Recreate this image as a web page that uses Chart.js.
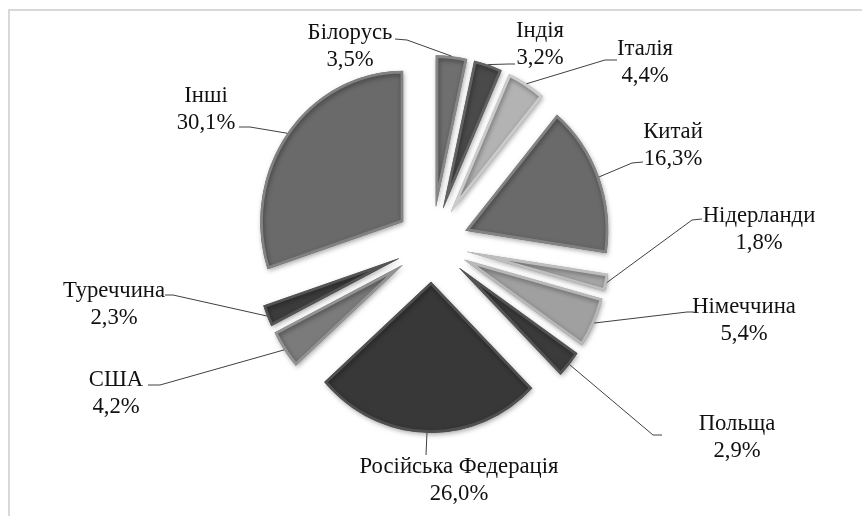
<!DOCTYPE html>
<html lang="uk">
<head>
<meta charset="utf-8">
<title>Структура</title>
<script src="https://cdn.jsdelivr.net/npm/chart.js@4.4.1/dist/chart.umd.min.js"></script>
<style>
  html, body { margin: 0; padding: 0; background: #fff; }
  #wrap { width: 862px; height: 516px; position: relative; }
  .font-warm { position: absolute; left: -9999px; font-family: "Liberation Serif"; }
</style>
</head>
<body>
<span class="font-warm">Білорусь 3,5%</span>
<div id="wrap"><canvas id="pie-chart"></canvas></div>
<script>
// data
const countries = ['Білорусь', 'Індія', 'Італія', 'Китай', 'Нідерланди', 'Німеччина',
                   'Польща', 'Російська Федерація', 'США', 'Туреччина', 'Інші'];
const shares    = [3.5, 3.2, 4.4, 16.3, 1.8, 5.4, 2.9, 26.0, 4.2, 2.3, 30.1];
const greys     = ['#6f6f6f', '#4a4a4a', '#b3b3b3', '#6a6a6a', '#a6a6a6', '#a0a0a0',
                   '#3b3b3b', '#383838', '#7b7b7b', '#3c3c3c', '#6a6a6a'];

// label layout: text centre x, first baseline y, leader knee and end
const labelAt  = [[350, 39], [540, 37], [645, 55], [673, 138], [759, 222], [744, 313],
                  [737, 430], [459, 473], [116, 386], [114, 297], [206, 102]];
const leaderAt = [
  [[407, 40], [395, 39]], [[509, 64], [515, 64]], [[605, 60], [617, 60]],
  [[632, 163], [643, 162]], [[692, 220], [702, 219]], [[687, 312], [694, 312]],
  [[653, 435], [662, 435]], [[426, 455], [426, 455]], [[160, 385], [148, 385]],
  [[173, 295], [165, 295]], [[250, 127], [239, 127]],
];

const SQUASH = 0.945;   // the picture is slightly narrower than tall
const EXPLODE = 38;     // px each slice is pulled out
const LINE_GAP = 27;
const LABEL_FONT = '24px "Liberation Serif", "DejaVu Serif", serif';

function lighten(hex, amt) {
  const n = parseInt(hex.slice(1), 16);
  const c = [n >> 16, (n >> 8) & 255, n & 255].map(v => Math.max(0, Math.min(255, v + amt)));
  return `rgb(${c[0]},${c[1]},${c[2]})`;
}

function pieCentre(chart) {
  const a = chart.chartArea;
  return { x: (a.left + a.right) / 2, y: (a.top + a.bottom) / 2 };
}

const explodePlugin = {
  id: 'explode',
  beforeDatasetsDraw(chart) {
    const c = pieCentre(chart);
    chart.getDatasetMeta(0).data.forEach(arc => {
      const mid = (arc.startAngle + arc.endAngle) / 2;
      arc.x = c.x + Math.cos(mid) * EXPLODE;
      arc.y = c.y + Math.sin(mid) * EXPLODE;
    });
    const ctx = chart.ctx;
    ctx.save();
    ctx.translate(c.x, 0);
    ctx.scale(SQUASH, 1);
    ctx.translate(-c.x, 0);
    ctx.shadowColor = 'rgba(0,0,0,0.35)';
    ctx.shadowBlur = 5;
    ctx.shadowOffsetX = 1;
    ctx.shadowOffsetY = 2;
  },
  afterDatasetsDraw(chart) {
    const ctx = chart.ctx;
    ctx.restore();
    const c = pieCentre(chart);

    // leader lines, starting at each slice's outer mid point
    ctx.save();
    ctx.strokeStyle = '#404040';
    ctx.lineWidth = 1;
    chart.getDatasetMeta(0).data.forEach((arc, i) => {
      const mid = (arc.startAngle + arc.endAngle) / 2;
      const px = arc.x + Math.cos(mid) * arc.outerRadius;
      const py = arc.y + Math.sin(mid) * arc.outerRadius;
      const [knee, end] = leaderAt[i];
      ctx.beginPath();
      ctx.moveTo(c.x + (px - c.x) * SQUASH, py);
      ctx.lineTo(knee[0], knee[1]);
      ctx.lineTo(end[0], end[1]);
      ctx.stroke();
    });
    ctx.restore();

    // labels
    ctx.save();
    ctx.fillStyle = '#111';
    ctx.font = LABEL_FONT;
    ctx.textAlign = 'center';
    ctx.textBaseline = 'alphabetic';
    countries.forEach((name, i) => {
      const [x, y] = labelAt[i];
      const pct = shares[i].toFixed(1).replace('.', ',') + '%';
      [name, pct].forEach((t, k) => {
        ctx.save();
        ctx.translate(x, y + k * LINE_GAP);
        ctx.scale(SQUASH, 1);
        ctx.fillText(t, 0, 0);
        ctx.restore();
      });
    });
    ctx.restore();
  },
};

const framePlugin = {
  id: 'frame',
  beforeDraw(chart) {
    const ctx = chart.ctx;
    ctx.save();
    ctx.fillStyle = '#fff';
    ctx.fillRect(0, 0, chart.width, chart.height);
    ctx.strokeStyle = '#d9d9d9';
    ctx.lineWidth = 2;
    ctx.beginPath();
    ctx.moveTo(chart.width, 10);
    ctx.lineTo(9, 10);
    ctx.lineTo(9, chart.height);
    ctx.stroke();
    ctx.restore();
  },
};

function drawChart() {
  new Chart(document.getElementById('pie-chart'), {
    type: 'pie',
    data: {
      labels: countries,
      datasets: [{
        data: shares,
        backgroundColor: greys,
        borderColor: greys.map(g => lighten(g, 24)),
        borderWidth: 2.5,
        borderAlign: 'inner',
        radius: 151,
      }],
    },
    options: {
      responsive: true,
      maintainAspectRatio: false,
      animation: false,
      events: [],
      layout: { padding: { left: 30, right: 28, top: 20, bottom: 48 } },
      plugins: {
        legend: { display: false },
        tooltip: { enabled: false },
      },
    },
    plugins: [framePlugin, explodePlugin],
  });
}

document.fonts.load(LABEL_FONT, 'Білорусь').then(drawChart, drawChart);
</script>
</body>
</html>
